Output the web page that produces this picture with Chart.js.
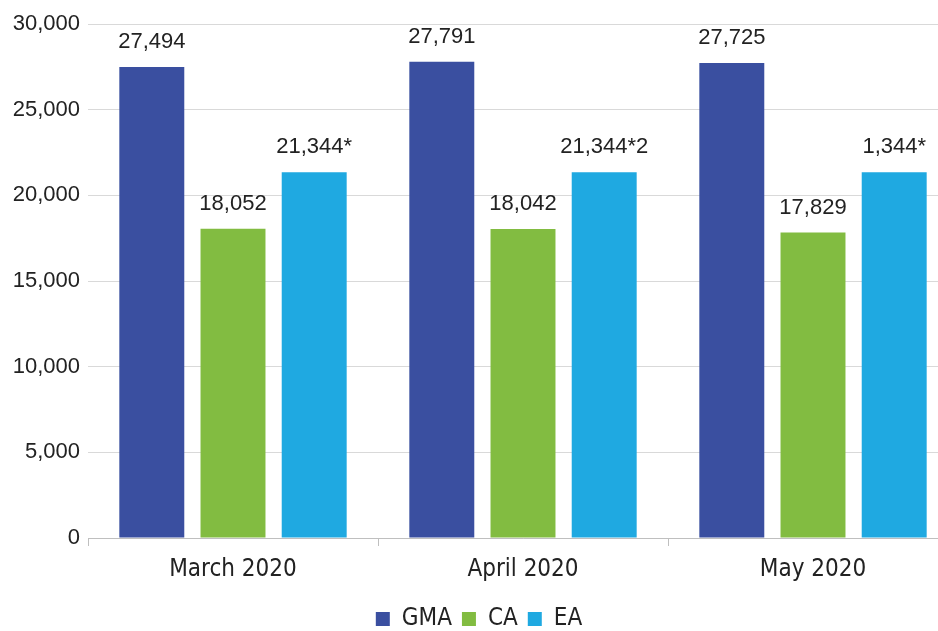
<!DOCTYPE html>
<html>
<head>
<meta charset="utf-8">
<script src="https://cdn.jsdelivr.net/npm/chart.js@4/dist/chart.umd.min.js"></script>
<style>
  html, body { margin: 0; padding: 0; background: #fff; overflow: hidden; }
  #wrap { width: 958px; height: 641px; position: relative; }
</style>
</head>
<body>
<div id="wrap"><canvas id="barChart"></canvas></div>
<script>
// data
const months = ['March 2020', 'April 2020', 'May 2020'];
const gmaValues = [27494, 27791, 27725];
const caValues = [18052, 18042, 17829];
const eaValues = [21344, 21344, 21344];
const eaLabels = ['21,344*', '21,344*2', '1,344*'];
const yTicks = [0, 5000, 10000, 15000, 20000, 25000, 30000];

const fmt = v => v.toLocaleString('en-US');
const condensed = '"DejaVu Sans Condensed", "Liberation Sans", sans-serif';

// value labels above each bar
const barLabels = {
    id: 'barLabels',
    afterDatasetsDraw(chart) {
        const ctx = chart.ctx;
        ctx.save();
        ctx.font = '22px "Liberation Sans", Arial, sans-serif';
        ctx.fillStyle = '#222';
        ctx.textAlign = 'center';
        ctx.textBaseline = 'middle';
        chart.data.datasets.forEach((ds, i) => {
            chart.getDatasetMeta(i).data.forEach((bar, j) => {
                const text = ds.customLabels ? ds.customLabels[j] : fmt(ds.data[j]);
                ctx.fillText(text, bar.x, bar.y - 25);
            });
        });
        ctx.restore();
    }
};

new Chart(document.getElementById('barChart'), {
    type: 'bar',
    data: {
        labels: months,
        datasets: [
            { label: 'GMA', data: gmaValues, backgroundColor: '#3a4fa0' },
            { label: 'CA', data: caValues, backgroundColor: '#82bc41' },
            { label: 'EA', data: eaValues, backgroundColor: '#1fa9e1', customLabels: eaLabels }
        ]
    },
    options: {
        responsive: true,
        maintainAspectRatio: false,
        animation: false,
        layout: { padding: { top: 24, right: 0, left: 0, bottom: 0 } },
        datasets: {
            bar: { categoryPercentage: 0.84, barPercentage: 0.8 }
        },
        scales: {
            x: {
                afterFit: scale => { scale.height = 59; },
                grid: {
                    offset: true,
                    drawOnChartArea: false,
                    drawTicks: true,
                    tickLength: 8,
                    color: '#bfbfbf'
                },
                border: { display: true, color: '#bfbfbf' },
                ticks: {
                    color: '#222',
                    padding: 9,
                    font: { family: condensed, size: 24 }
                }
            },
            y: {
                min: 0,
                max: 30000,
                afterBuildTicks: scale => { scale.ticks = yTicks.map(v => ({ value: v })); },
                afterFit: scale => { scale.width = 88; },
                grid: { color: '#d9d9d9', drawTicks: false },
                border: { display: false },
                ticks: {
                    color: '#222',
                    padding: 8,
                    callback: v => fmt(v),
                    font: { family: '"Liberation Sans", Arial, sans-serif', size: 22 }
                }
            }
        },
        plugins: {
            legend: {
                position: 'bottom',
                labels: {
                    color: '#222',
                    boxWidth: 14,
                    boxHeight: 14,
                    padding: 10,
                    font: { family: condensed, size: 24 }
                }
            },
            tooltip: { enabled: false }
        }
    },
    plugins: [barLabels]
});
</script>
</body>
</html>
